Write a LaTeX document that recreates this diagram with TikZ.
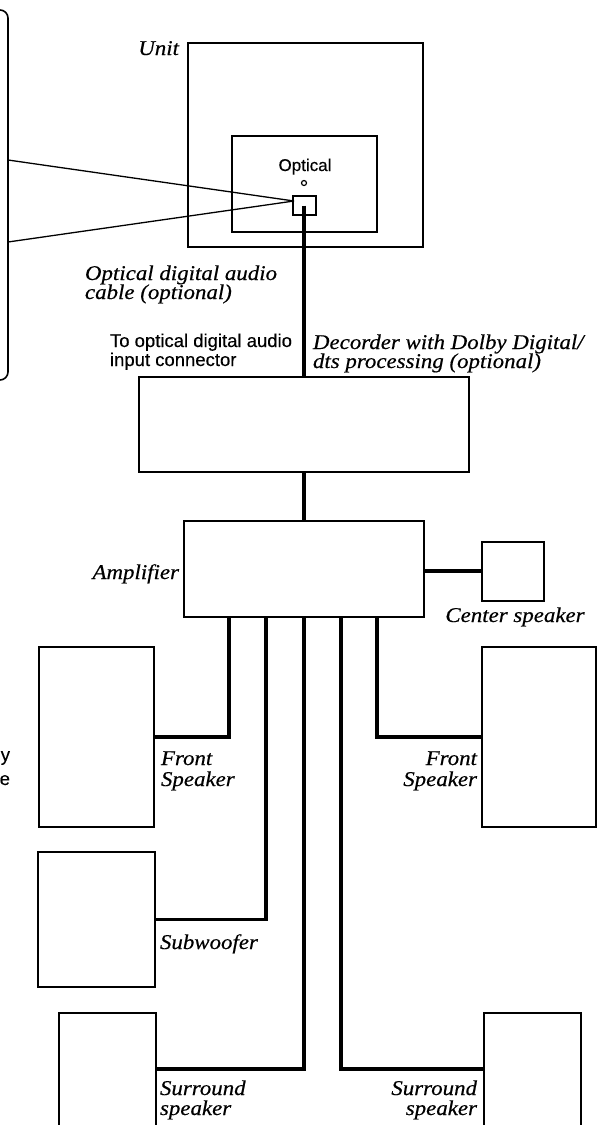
\documentclass[tikz,border=0pt]{standalone}
\usepackage{fontspec}
\setmainfont{Liberation Serif}
\setsansfont{Liberation Sans}
\newcommand\ix[1]{\scalebox{1.09}[1]{#1}}
\begin{document}
\begin{tikzpicture}[x=1pt,y=-1pt,
  box/.style={draw, line width=2pt, inner sep=0pt, outer sep=0pt, shape=rectangle},
  openbox/.style={inner sep=0pt, outer sep=0pt, shape=rectangle},
  edge/.style={line width=2pt},
  conn/.style={line width=3.4pt},
  cable/.style={line width=1.3pt},
  lab/.style={inner sep=0pt, outer sep=0pt, font=\fontsize{21}{21}\selectfont\itshape\addfontfeatures{FakeBold=0.4}},
  sans/.style={inner sep=0pt, outer sep=0pt, font=\fontsize{18.5}{19}\selectfont\sffamily\addfontfeatures{FakeBold=0.3}},
  sanssm/.style={inner sep=0pt, outer sep=0pt, font=\fontsize{17}{18}\selectfont\sffamily\addfontfeatures{FakeBold=0.3}}]
\useasboundingbox (0,0) rectangle (597,1125);

% bracket on the left
\draw[line width=1.6pt, rounded corners=8pt] (0,10) -- (8,10) -- (8,380) -- (0,380);
\coordinate (b1) at (8,160);
\coordinate (b2) at (8,242);

% unit
\node[box, minimum width=235pt, minimum height=204pt] (unit) at (305.5,145) {};
\node[box, minimum width=145pt, minimum height=96pt] (inner) at (304.5,184) {};
\node[box, minimum width=23pt, minimum height=19pt] (port) at (304,205.5) {};
\node[circle, draw, line width=1.2pt, minimum size=5pt, inner sep=0pt] (led) at (304,183) {};
\coordinate (cab) at (294,201);
\draw[cable] (b1) -- (cab);
\draw[cable] (b2) -- (cab);

% decoder and amplifier
\node[box, minimum width=330pt, minimum height=95pt] (dec) at (304,424.5) {};
\node[box, minimum width=240pt, minimum height=96pt] (amp) at (304,569) {};
\node[box, minimum width=62pt, minimum height=59pt] (cs) at (513,571) {};

% speakers
\node[box, minimum width=115pt, minimum height=180pt] (fl) at (96.5,737) {};
\node[box, minimum width=114pt, minimum height=180pt] (fr) at (539,737) {};
\node[box, minimum width=117pt, minimum height=135pt] (sub) at (96.5,919.5) {};
\node[openbox, minimum width=97pt, minimum height=112pt] (sl) at (107.5,1069) {};
\node[openbox, minimum width=97pt, minimum height=112pt] (sr) at (532.5,1069) {};
\draw[edge] (sl.south west) -- (sl.north west) -- (sl.north east) -- (sl.south east);
\draw[edge] (sr.south west) -- (sr.north west) -- (sr.north east) -- (sr.south east);

% connectors
\draw[conn] (port.center) -- (dec.north);
\draw[conn] (dec.south) -- (amp.north);
\draw[conn] (amp.east |- cs.west) -- (cs.west);
\coordinate (xfl) at (229,0);
\coordinate (xsub) at (266,0);
\coordinate (xsl) at (304,0);
\coordinate (xsr) at (341,0);
\coordinate (xfr) at (377,0);
\draw[conn] (amp.south -| xfl) |- (fl.east);
\draw[conn] (amp.south -| xsub) |- (sub.east);
\draw[conn] (amp.south -| xsl) |- (sl.east);
\draw[conn] (amp.south -| xsr) |- (sr.west);
\draw[conn] (amp.south -| xfr) |- (fr.west);

% labels
\node[lab, anchor=base east] (tunit) at (179,55) {\ix{Unit}};
\node[sanssm, anchor=base] (topt) at (305,171) {Optical};
\node[lab, anchor=base west] (tcab1) at (85,280) {\ix{Optical digital audio}};
\node[lab, anchor=base west] (tcab2) at (85,299) {\ix{cable (optional)}};
\node[sans, anchor=base west] (tin1) at (110,347) {To optical digital audio};
\node[sans, anchor=base west] (tin2) at (110,366) {input connector};
\node[lab, anchor=base west] (tdec1) at (313,349) {\ix{Decorder with Dolby Digital/}};
\node[lab, anchor=base west] (tdec2) at (313,368) {\ix{dts processing (optional)}};
\node[lab, anchor=base east] (tamp) at (179,579) {\ix{Amplifier}};
\node[lab, anchor=base] (tcs) at (515,622) {\ix{Center speaker}};
\node[lab, anchor=base west] (tfl1) at (161,765) {\ix{Front}};
\node[lab, anchor=base west] (tfl2) at (161,786) {\ix{Speaker}};
\node[lab, anchor=base east] (tfr1) at (477,765) {\ix{Front}};
\node[lab, anchor=base east] (tfr2) at (477,786) {\ix{Speaker}};
\node[lab, anchor=base west] (tsub) at (160,949) {\ix{Subwoofer}};
\node[lab, anchor=base west] (tsl1) at (160,1095) {\ix{Surround}};
\node[lab, anchor=base west] (tsl2) at (160,1115) {\ix{speaker}};
\node[lab, anchor=base east] (tsr1) at (477,1095) {\ix{Surround}};
\node[lab, anchor=base east] (tsr2) at (477,1115) {\ix{speaker}};
\node[sans, anchor=base east] (ty) at (10,761) {y};
\node[sans, anchor=base east] (te) at (10,785) {e};
\end{tikzpicture}
\end{document}
